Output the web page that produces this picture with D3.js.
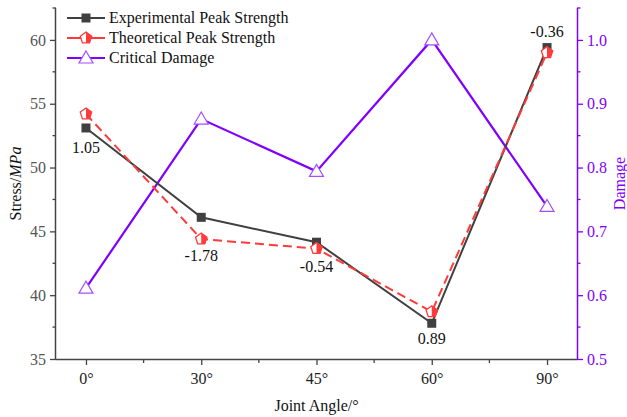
<!DOCTYPE html>
<html>
<head>
<meta charset="utf-8">
<script src="https://cdn.jsdelivr.net/npm/d3@7"></script>
<style>
  body { margin: 0; background: #fff; }
</style>
</head>
<body>
<svg id="chart" width="627" height="417"></svg>
<script>
const angles = ["0°", "30°", "45°", "60°", "90°"];
const experimental = [53.1, 46.1, 44.15, 37.8, 59.4];
const theoretical = [54.2, 44.4, 43.65, 38.7, 59.0];
const damage = [0.611, 0.876, 0.794, 1.0, 0.739];
const errLabels = ["1.05", "-1.78", "-0.54", "0.89", "-0.36"];
const stressTicks = [35, 40, 45, 50, 55, 60];
const damageTicks = [0.5, 0.6, 0.7, 0.8, 0.9, 1.0];

const svg = d3.select("#chart");
const plotLeft = 56, plotRight = 577, plotTop = 8, plotBottom = 359;
const purple = "#7f00ff";
const grayAxis = "#444";
const fs = "16px";
const serif = "'Liberation Serif', 'Times New Roman', serif";

const x = d3.scalePoint().domain(angles).range([plotLeft, plotRight]).padding(0.26);
const yL = d3.scaleLinear().domain([35, 62.5]).range([plotBottom, plotTop]);
const yR = d3.scaleLinear().domain([0.5, 1.05]).range([plotBottom, plotTop]);

// left axis
const gL = svg.append("g").attr("transform", `translate(${plotLeft},0)`)
  .call(d3.axisLeft(yL).tickValues(stressTicks).tickSize(6).tickPadding(4));
gL.select(".domain").attr("stroke", grayAxis).attr("stroke-width", 1.5).attr("d", `M-0.5,${plotBottom}V${plotTop}`);
gL.selectAll(".tick line").attr("stroke", grayAxis).attr("stroke-width", 1.3);
gL.selectAll(".tick text").attr("fill", "#555");
gL.selectAll(".minor").data(d3.range(37.5, 63, 5)).join("line")
  .attr("x1", 0).attr("x2", -3.5).attr("y1", d => yL(d)).attr("y2", d => yL(d))
  .attr("stroke", grayAxis).attr("stroke-width", 1.3);

// right axis
const gR = svg.append("g").attr("transform", `translate(${plotRight},0)`)
  .call(d3.axisRight(yR).tickValues(damageTicks).tickFormat(d3.format(".1f")).tickSize(6).tickPadding(4));
gR.select(".domain").attr("stroke", purple).attr("stroke-width", 1.5).attr("d", `M0.5,${plotBottom}V${plotTop}`);
gR.selectAll(".tick line").attr("stroke", purple).attr("stroke-width", 1.3);
gR.selectAll(".tick text").attr("fill", purple);
gR.selectAll(".minor").data(d3.range(0.55, 1.06, 0.1)).join("line")
  .attr("x1", 0).attr("x2", 3.5).attr("y1", d => yR(d)).attr("y2", d => yR(d))
  .attr("stroke", purple).attr("stroke-width", 1.3);

// bottom axis
const gX = svg.append("g").attr("transform", `translate(0,${plotBottom})`)
  .call(d3.axisBottom(x).tickSize(6).tickPadding(8));
gX.select(".domain").attr("stroke", grayAxis).attr("stroke-width", 1.5).attr("d", `M${plotLeft},0.5H${plotRight}`);
gX.selectAll(".tick line").attr("stroke", grayAxis).attr("stroke-width", 1.3);
gX.selectAll(".tick text").attr("fill", "#222");
const mids = d3.pairs(angles).map(([a, b]) => (x(a) + x(b)) / 2);
gX.selectAll(".minor").data(mids).join("line")
  .attr("x1", d => d).attr("x2", d => d).attr("y1", 0).attr("y2", 4)
  .attr("stroke", grayAxis).attr("stroke-width", 1.3);

// axis titles
const tl = svg.append("text").attr("transform", `translate(21,${(plotTop + plotBottom) / 2}) rotate(-90)`)
  .attr("text-anchor", "middle").attr("fill", "#111");
tl.append("tspan").text("Stress/");
tl.append("tspan").attr("font-style", "italic").text("MPa");
svg.append("text").attr("transform", `translate(625,${(plotTop + plotBottom) / 2}) rotate(-90)`)
  .attr("text-anchor", "middle").attr("fill", purple).text("Damage");
svg.append("text").attr("x", (plotLeft + plotRight) / 2).attr("y", 411).attr("text-anchor", "middle")
  .attr("fill", "#111").text("Joint Angle/°");

// lines
const lineL = d3.line().x((d, i) => x(angles[i])).y(d => yL(d));
const lineR = d3.line().x((d, i) => x(angles[i])).y(d => yR(d));

svg.append("path").datum(damage).attr("d", lineR).attr("fill", "none")
  .attr("stroke", purple).attr("stroke-width", 2.2);
svg.append("path").datum(experimental).attr("d", lineL).attr("fill", "none")
  .attr("stroke", "#404040").attr("stroke-width", 2);
svg.append("path").datum(theoretical).attr("d", lineL).attr("fill", "none")
  .attr("stroke", "#ff3a3a").attr("stroke-width", 2).attr("stroke-dasharray", "9,5");

// markers
const sqr = (g, cx, cy) => g.append("rect").attr("x", cx - 4.5).attr("y", cy - 4.5)
  .attr("width", 9).attr("height", 9).attr("fill", "#404040");
const pent = (g, cx, cy) => {
  const r = 6;
  const pts = d3.range(5).map(k => {
    const a = -Math.PI / 2 + k * 2 * Math.PI / 5;
    return [cx + r * Math.cos(a), cy + r * Math.sin(a)];
  });
  const half = [[cx, pts[0][1]], pts[1], pts[2], [cx, pts[2][1]]];
  g.append("polygon").attr("points", pts.join(" ")).attr("fill", "#fff")
    .attr("stroke", "#ff3a3a").attr("stroke-width", 1.3);
  g.append("polygon").attr("points", half.join(" ")).attr("fill", "#ff3a3a");
};
const tri = (g, cx, cy) => g.append("path")
  .attr("d", `M${cx},${cy - 7}L${cx + 7},${cy + 5}L${cx - 7},${cy + 5}Z`)
  .attr("fill", "#fff").attr("stroke", "#a050ff").attr("stroke-width", 1.2);

const gm = svg.append("g");
damage.forEach((d, i) => tri(gm, x(angles[i]), yR(d)));
experimental.forEach((d, i) => sqr(gm, x(angles[i]), yL(d)));
theoretical.forEach((d, i) => pent(gm, x(angles[i]), yL(d)));

// data labels
const labelY = [
  yL(experimental[0]) + 25,
  yL(theoretical[1]) + 22,
  yL(theoretical[2]) + 23,
  yL(experimental[3]) + 21,
  yL(experimental[4]) - 11
];
svg.selectAll(".lbl").data(errLabels).join("text")
  .attr("x", (d, i) => x(angles[i])).attr("y", (d, i) => labelY[i])
  .attr("text-anchor", "middle").attr("fill", "#111").text(d => d);

// legend
const legend = [
  { name: "Experimental Peak Strength", color: "#404040", mk: sqr },
  { name: "Theoretical Peak Strength", color: "#ff3a3a", mk: pent },
  { name: "Critical Damage", color: purple, mk: tri }
];
const lg = svg.append("g");
legend.forEach((s, i) => {
  const ly = 18 + i * 20;
  lg.append("line").attr("x1", 67).attr("x2", 105).attr("y1", ly).attr("y2", ly)
    .attr("stroke", s.color).attr("stroke-width", 2);
  s.mk(lg, 86, ly);
  lg.append("text").attr("x", 109).attr("y", ly + 5).attr("fill", "#111").text(s.name);
});

svg.selectAll("text").style("font-family", serif).style("font-size", fs);
</script>
</body>
</html>
